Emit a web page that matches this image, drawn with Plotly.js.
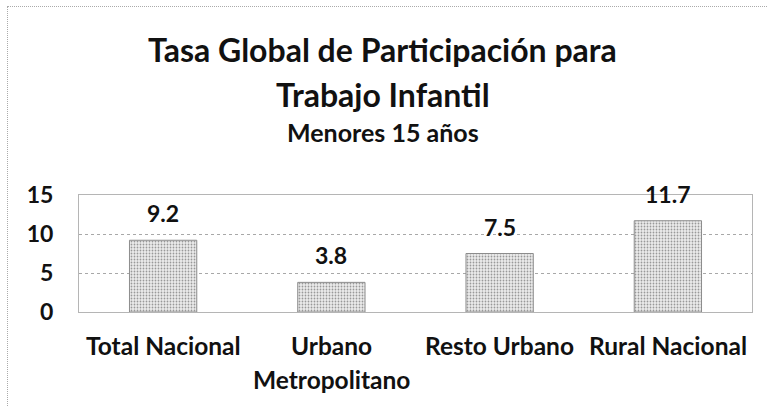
<!DOCTYPE html>
<html><head><meta charset="utf-8">
<script src="https://cdn.plot.ly/plotly-3.0.1.min.js"></script>
<style>
html,body{margin:0;padding:0;background:#fff;}
#wrap{position:relative;width:767px;height:406px;overflow:hidden;}
#chart{width:767px;height:406px;}
#frame{position:absolute;left:7px;top:6px;width:770px;height:410px;border:1px dotted #aaa;pointer-events:none;}
</style></head>
<body>
<div id="wrap"><div id="chart"></div><div id="frame"></div></div>
<script>
const categories = ["Total Nacional", "Urbano Metropolitano", "Resto Urbano", "Rural Nacional"];
const categoryLines = [["Total Nacional"], ["Urbano", "Metropolitano"], ["Resto Urbano"], ["Rural Nacional"]];
const values = [9.2, 3.8, 7.5, 11.7];
const valueLabels = ["9.2", "3.8", "7.5", "11.7"];
const yTicks = [0, 5, 10, 15];
const titleLines = ["Tasa Global de Participación para", "Trabajo Infantil"];
const subtitle = "Menores 15 años";

const FONT = "Lato, 'Open Sans', sans-serif";

const trace = {
  type: "bar",
  x: categories,
  y: values,
  width: 0.4,
  marker: {
    color: "#e3e3e3",
    line: {color: "#8c8c8c", width: 1},
    pattern: {shape: ".", fgcolor: "#999999", bgcolor: "#ececec", size: 3, solidity: 0.28}
  },
  hoverinfo: "none"
};

const annotations = [];
values.forEach((v, i) => {
  annotations.push({
    x: categories[i], y: v, xref: "x", yref: "y",
    text: "<b>" + valueLabels[i] + "</b>", showarrow: false,
    yanchor: "middle", yshift: 27,
    font: {family: FONT, size: 23, color: "#111"}
  });
});
categoryLines.forEach((lines, i) => {
  lines.forEach((ln, j) => {
    annotations.push({
      x: categories[i], y: 0, xref: "x", yref: "y",
      text: "<b>" + ln + "</b>", showarrow: false,
      yanchor: "middle", yshift: -33 - 34 * j,
      font: {family: FONT, size: 24.5, color: "#111"}
    });
  });
});
const titleShift = [146, 101];
titleLines.forEach((t, j) => {
  annotations.push({
    x: 0.5, y: 1, xref: "paper", yref: "paper", xanchor: "center", yanchor: "middle",
    xshift: -33, yshift: titleShift[j], showarrow: false,
    text: "<b>" + t + "</b>",
    font: {family: FONT, size: 32, color: "#111"}
  });
});
annotations.push({
  x: 0.5, y: 1, xref: "paper", yref: "paper", xanchor: "center", yanchor: "middle",
  xshift: -33, yshift: 63, showarrow: false,
  text: "<b>" + subtitle + "</b>",
  font: {family: FONT, size: 25, color: "#111"}
});

const layout = {
  width: 767, height: 406,
  margin: {l: 79, r: 15, t: 195, b: 94},
  paper_bgcolor: "#fff", plot_bgcolor: "#fff",
  showlegend: false,
  xaxis: {
    showticklabels: false, ticks: "", showgrid: false, zeroline: false,
    showline: true, linecolor: "#b5b5b5", linewidth: 1, mirror: true,
    fixedrange: true
  },
  yaxis: {
    range: [0, 15], tickvals: yTicks, ticktext: yTicks.map(t => "<b>" + t + "</b>"),
    ticks: "", ticklabelstandoff: 20,
    tickfont: {family: FONT, size: 23, color: "#111"},
    showgrid: true, gridcolor: "#a8a8a8", griddash: "dot", gridwidth: 1,
    zeroline: false, showline: true, linecolor: "#b5b5b5", linewidth: 1, mirror: true,
    fixedrange: true
  },
  annotations: annotations
};

Plotly.newPlot("chart", [trace], layout, {displayModeBar: false, staticPlot: true});
</script>
</body></html>
